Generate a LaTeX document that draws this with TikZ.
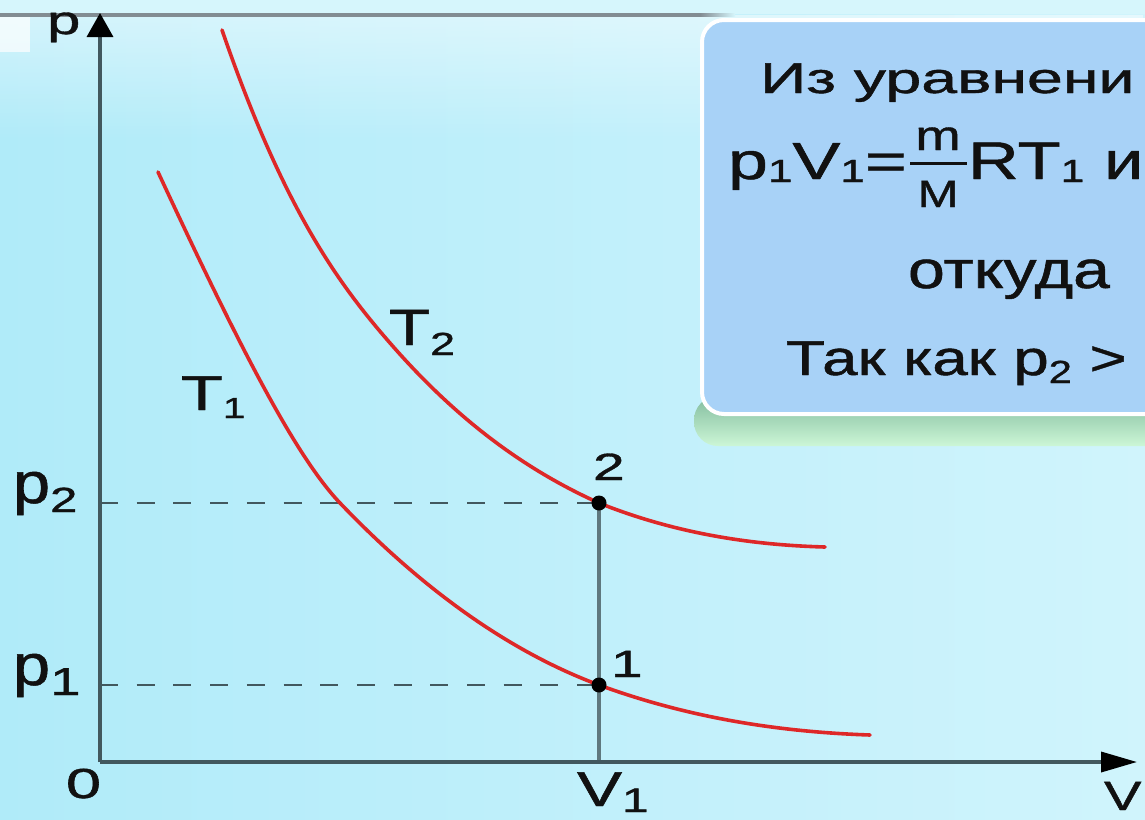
\documentclass[tikz,border=0pt]{standalone}
\usepackage{fontspec}
\setmainfont{Liberation Sans}[FakeBold=0.9]
\usetikzlibrary{arrows.meta,fadings}
\definecolor{bgA}{RGB}{176,235,249}
\definecolor{bgB}{RGB}{208,244,252}
\definecolor{topbg}{RGB}{214,246,252}
\definecolor{axisc}{RGB}{66,88,94}
\definecolor{vlinec}{RGB}{95,120,126}
\definecolor{topline}{RGB}{130,140,146}
\definecolor{curvec}{RGB}{222,40,40}
\definecolor{boxc}{RGB}{168,210,247}
\definecolor{shadA}{RGB}{130,188,158}
\definecolor{shadB}{RGB}{204,246,214}
\definecolor{inkc}{RGB}{17,17,17}
\newcommand\stx[3]{\scalebox{#1}[1]{\fontsize{#2}{#2}\selectfont #3}}
\newcommand\lowered[2]{\raisebox{-#1}{#2}}
\tikzfading[name=fadedown, top color=transparent!0, bottom color=transparent!100]
\tikzset{
  lbl/.style={anchor=base west, inner sep=0pt, outer sep=0pt, text=inkc},
  axisline/.style={draw=axisc, line width=3.5pt},
  dashline/.style={draw=axisc, line width=2.8pt, dash pattern=on 18pt off 18.7pt},
  vline/.style={draw=vlinec, line width=3.2pt},
  isotherm/.style={draw=curvec, line width=3.6pt, line cap=round},
  dotpt/.style={fill=black},
}
\begin{document}
\begin{tikzpicture}[x=1pt,y=-1pt]
\useasboundingbox (0,0) rectangle (1145,819);
% background
\shade[left color=bgA, right color=bgB] (0,0) rectangle (1145,819);
\fill[white, opacity=0.45, path fading=fadedown] (0,15) rectangle (1145,140);
\fill[topbg] (0,0) rectangle (1145,14);
\fill[white, opacity=0.7] (0,17) rectangle (30,52);
% top gray line
\draw[topline, line width=3.5pt] (0,15) -- (700,15);
\shade[left color=topline, right color=topbg] (700,13.25) rectangle (735,16.75);
% box shadow and box
\shade[top color=shadA, bottom color=shadB, rounded corners=24pt] (694,396) rectangle (1180,446);
\draw[white, line width=4pt, fill=boxc, rounded corners=22pt] (702,20) rectangle (1180,414);
% box text
\node[lbl] (l1) at (760,93) {\stx{1.5}{43}{Из уравнени}};
\node[lbl] (l2a) at (728,179) {\stx{1.38}{52}{p}\lowered{3pt}{\stx{1.38}{32}{1}}\stx{1.38}{52}{V}\lowered{3pt}{\stx{1.38}{32}{1}}\stx{1.38}{52}{=}};
\node[lbl, anchor=base] (fm) at (938,150) {\stx{1.3}{42}{m}};
\node[lbl, anchor=base] (fM) at (938,207) {\stx{1.3}{38}{M}};
\draw[inkc, line width=3pt] (910,163) -- (967,163);
\node[lbl] (l2b) at (968,179) {\stx{1.33}{53}{RT}\lowered{3pt}{\stx{1.33}{32}{1}}\stx{1.33}{53}{ и}};
\node[lbl] (l3) at (908,288) {\stx{1.25}{53}{откуда}};
\node[lbl] (l4) at (786,375) {\stx{1.3}{49}{Так как p}\lowered{8pt}{\stx{1.3}{32}{2}}\stx{1.3}{49}{ >}};
% coordinates
\coordinate (O) at (100,762);
\coordinate (Ytip) at (100,13);
\coordinate (Xtip) at (1137,762);
\coordinate (P2) at (599,503);
\coordinate (P1) at (599,685);
\coordinate (Y2) at (100,503);
\coordinate (Y1) at (100,685);
\coordinate (V1foot) at (599,762);
% dashed and vertical
\draw[dashline] (Y2) -- (P2);
\draw[dashline] (Y1) -- (P1);
\draw[vline] (P2) -- (V1foot);
% isotherms
\draw[isotherm] (158,172) .. controls (238,344) and (295,455.75) .. (340,503)
  .. controls (426,593) and (513,653) .. (P1)
  .. controls (689,718) and (780,732) .. (870,735);
\draw[isotherm] (222,30) .. controls (282,204) and (335,280) .. (390,343)
  .. controls (460,423.5) and (529,471.5) .. (P2)
  .. controls (674,533) and (750,545) .. (825,547);
% axes
\draw[axisline, -{Triangle[length=24pt,width=26pt,black]}] (O) -- (Ytip);
\draw[axisline, -{Triangle[length=36pt,width=20pt,black]}] (O) -- (Xtip);
% points
\fill[dotpt] (P2) circle (7.5);
\fill[dotpt] (P1) circle (7.5);
% labels
\node[lbl] (pl) at (47,34) {\stx{1.5}{40}{p}};
\node[lbl] (p2l) at (13,503) {\stx{1.15}{58}{p}\lowered{9pt}{\stx{1.4}{35}{2}}};
\node[lbl] (p1l) at (13,685) {\stx{1.15}{58}{p}\lowered{10pt}{\stx{1.4}{39}{1}}};
\node[lbl] (zero) at (66,798) {\stx{1.5}{42}{0}};
\node[lbl] (t1) at (181,410) {\stx{1.4}{49}{T}\lowered{8pt}{\stx{1.4}{29}{1}}};
\node[lbl] (t2) at (389,345) {\stx{1.32}{51}{T}\lowered{10pt}{\stx{1.4}{32}{2}}};
\node[lbl] (n2) at (593,480) {\stx{1.5}{38}{2}};
\node[lbl] (n1) at (611,677) {\stx{1.5}{38}{1}};
\node[lbl] (v1l) at (577,806) {\stx{1.38}{49}{V}\lowered{6pt}{\stx{1.4}{34}{1}}};
\node[lbl] (vl) at (1104,810) {\stx{1.37}{41}{V}};
\end{tikzpicture}
\end{document}
